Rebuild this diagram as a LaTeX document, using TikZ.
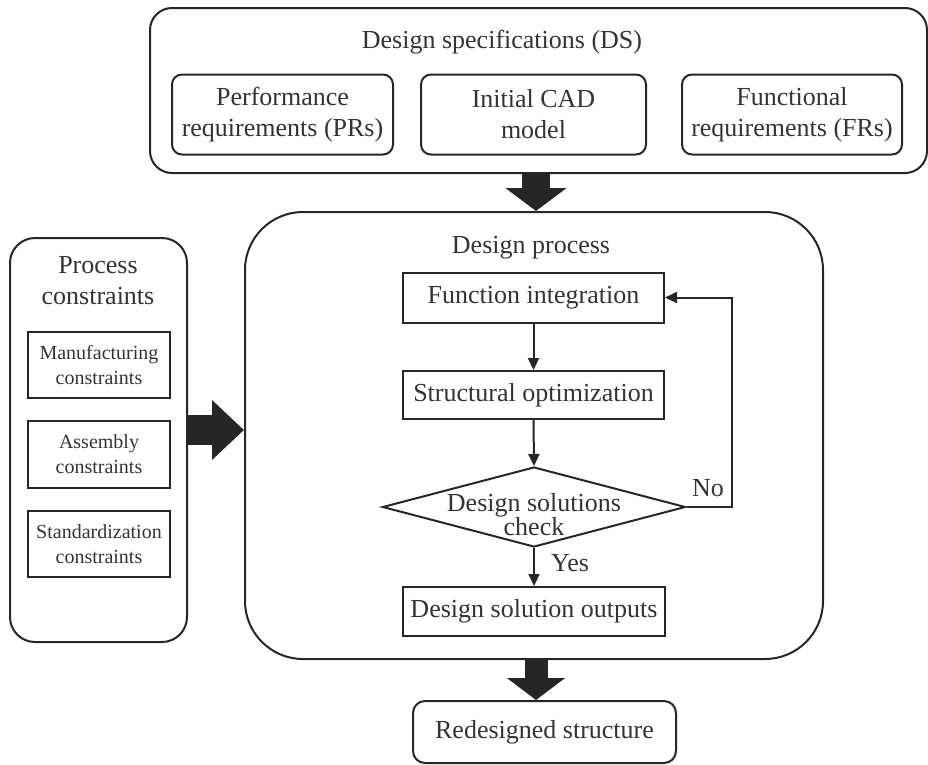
\documentclass[tikz,border=0pt]{standalone}
\usepackage{fontspec}
\setmainfont{Liberation Serif}
\usetikzlibrary{shapes.geometric,arrows.meta}
\definecolor{ink}{HTML}{262626}
\definecolor{txt}{HTML}{333333}
\begin{document}
\begin{tikzpicture}[x=1pt,y=-1pt,
  every node/.style={text=txt, font=\fontsize{26}{31}\selectfont, align=center, inner sep=0pt},
  outer/.style={draw=ink, line width=2pt, rounded corners=#1},
  rbox/.style={draw=ink, line width=2pt, rounded corners=10pt},
  sbox/.style={draw=ink, line width=2pt},
  small/.style={font=\fontsize{20}{25}\selectfont},
  flow/.style={draw=ink, line width=2pt, -{Triangle[length=12pt,width=11pt]}},
  fat/.style={draw=ink}
]
\useasboundingbox (0,0) rectangle (928,764);

% Design specifications
\node[outer=22pt, minimum width=777pt, minimum height=165pt] (ds) at (538.5,90.5) {};
\node (dst) at (502,42) {Design specifications (DS)};
\node[rbox, minimum width=221pt, minimum height=80pt] (pr) at (282.5,114.5) {Performance\\requirements (PRs)};
\node[rbox, minimum width=225pt, minimum height=80pt] (cad) at (533.5,114.5) {Initial CAD\\model};
\node[rbox, minimum width=220pt, minimum height=80pt] (fr) at (792,114.5) {Functional\\requirements (FRs)};

% Design process
\node[outer=58pt, minimum width=578pt, minimum height=447pt] (dp) at (534,435.5) {};
\node (dpt) at (531,248) {Design process};
\node[sbox, minimum width=261pt, minimum height=50pt] (fi) at (533.5,297.5) {Function integration};
\node[sbox, minimum width=261pt, minimum height=48pt] (so) at (533.5,395) {Structural optimization};
\node[diamond, draw=ink, line width=2pt, minimum width=303pt, minimum height=80pt] (chk) at (534,507) {};
\node[font=\fontsize{26}{24}\selectfont] (chkt) at (534,515) {Design solutions\\check};
\node[sbox, minimum width=262pt, minimum height=49pt] (dso) at (534,611.5) {Design solution outputs};
\node (yes) at (570,563) {Yes};
\node (no) at (708,488) {No};

\draw[flow] (fi.south) -- (so.north);
\draw[flow] (so.south) -- (chk.north);
\draw[flow] (chk.south) -- (dso.north);
\draw[flow] (chk.east) -- ++(45,0) |- (fi.east);

% Process constraints
\node[outer=25pt, minimum width=177pt, minimum height=404pt] (lc) at (98.5,440) {};
\node (lct) at (98,281) {Process\\constraints};
\node[sbox, small, minimum width=142pt, minimum height=66pt] (mc) at (99,365) {Manufacturing\\constraints};
\node[sbox, small, minimum width=142pt, minimum height=67pt] (ac) at (99,454.5) {Assembly\\constraints};
\node[sbox, small, minimum width=142pt, minimum height=66pt] (sc) at (99,544) {Standardization\\constraints};

% Redesigned structure
\node[outer=12pt, minimum width=263pt, minimum height=62pt] (rs) at (544.5,732) {Redesigned structure};

% fat arrows
\coordinate (t1) at (ds.south -| 536,0);
\coordinate (t2) at (dp.north -| 536,0);
\draw[fat, line width=28pt, -{Triangle[length=23pt,width=60pt]}] (t1) -- (t2);
\coordinate (l1) at (lc.east |- 0,430);
\coordinate (l2) at (dp.west |- 0,430);
\draw[fat, line width=30pt, -{Triangle[length=32pt,width=58pt]}] (l1) -- (l2);
\coordinate (b1) at (dp.south -| 536,0);
\coordinate (b2) at (rs.north -| 536,0);
\draw[fat, line width=23pt, -{Triangle[length=22pt,width=57pt]}] (b1) -- (b2);
\end{tikzpicture}
\end{document}
